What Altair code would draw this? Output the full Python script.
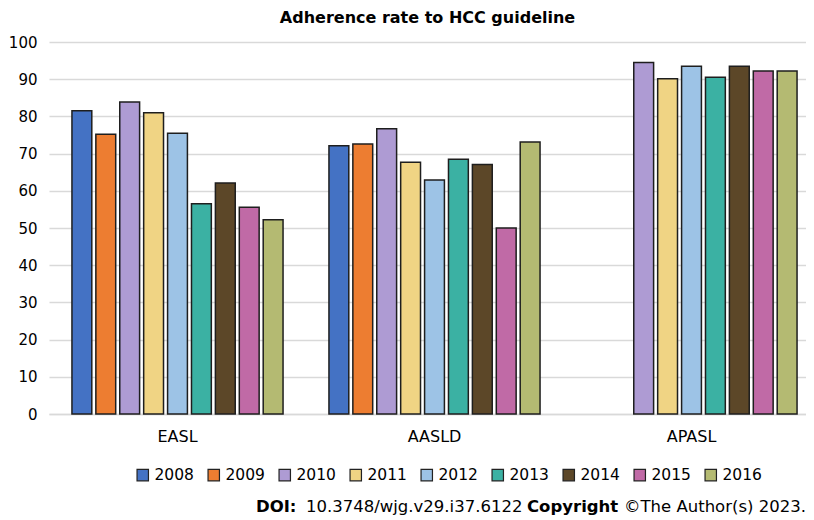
import altair as alt
import pandas as pd

groups = ["EASL", "AASLD", "APASL"]
years = ["2008", "2009", "2010", "2011", "2012", "2013", "2014", "2015", "2016"]
easl = [81.5, 75.2, 83.9, 81.0, 75.5, 56.5, 62.1, 55.6, 52.2]
aasld = [72.1, 72.6, 76.7, 67.7, 62.9, 68.5, 67.1, 50.0, 73.1]
apasl = [None, None, 94.5, 90.1, 93.5, 90.5, 93.5, 92.2, 92.2]
colors = ["#4472C4", "#ED7D31", "#AE9BD3", "#F0D484", "#9DC3E6",
          "#3BB1A3", "#5C4728", "#C06AA6", "#B4BA72"]
title_text = "Adherence rate to HCC guideline"
footer = ["DOI:", "10.3748/wjg.v29.i37.6122", "Copyright", "\u00a9The Author(s) 2023."]

rows = []
for g, vals in zip(groups, [easl, aasld, apasl]):
    for y, v in zip(years, vals):
        if v is not None:
            rows.append({"group": g, "year": y, "value": v})
df = pd.DataFrame(rows)

FONT = "DejaVu Sans"

bars = alt.Chart(df).mark_bar(stroke="#1e1e1e", strokeWidth=1.5).encode(
    x=alt.X("group:N", sort=groups,
            scale=alt.Scale(range=[0, 771], paddingInner=0, paddingOuter=0),
            axis=alt.Axis(title=None, labelAngle=0, ticks=False, domainColor="#d9d9d9",
                          domainWidth=1.5, labelPadding=14, labelFontSize=16)),
    xOffset=alt.XOffset("year:N", sort=years,
                        scale=alt.Scale(domain=years, paddingInner=0.17, paddingOuter=0.96)),
    y=alt.Y("value:Q", scale=alt.Scale(domain=[0, 100]),
            axis=alt.Axis(title=None, values=list(range(0, 101, 10)), ticks=False, domain=False,
                          gridColor="#d9d9d9", gridWidth=1.5, labelPadding=12, labelFontSize=15)),
    color=alt.Color("year:N", sort=years, scale=alt.Scale(domain=years, range=colors),
                    legend=alt.Legend(title=None, orient="none", legendX=86, legendY=425,
                                      direction="horizontal", columns=9, symbolType="square",
                                      symbolSize=130, symbolStrokeColor="#222222",
                                      symbolStrokeWidth=1.2, labelFontSize=15.5, labelOffset=4,
                                      columnPadding=11, labelFont=FONT, labelColor="#000000")),
)

footer_x = [207, 257, 478, 575]
footer_bold = [True, False, True, False]
layers = [bars]
for t, xv, b in zip(footer, footer_x, footer_bold):
    layers.append(
        alt.Chart(pd.DataFrame({"t": [t]})).mark_text(
            align="left", baseline="middle", font=FONT, fontSize=16.5,
            fontWeight="bold" if b else "normal", color="#000000"
        ).encode(x=alt.value(xv), y=alt.value(465), text="t:N")
    )

chart = alt.layer(*layers).properties(
    width=757, height=372,
    title=alt.TitleParams(title_text, font=FONT, fontSize=16, fontWeight="bold",
                          anchor="middle", offset=9, color="#000000"),
    autosize=alt.AutoSizeParams(type="none"),
    padding={"left": 41, "top": 34, "right": 0, "bottom": 104},
).configure_axis(
    labelFont=FONT, labelColor="#000000"
).configure_view(stroke=None)

chart.save("out.html", embed_options={"renderer": "svg", "actions": False})
